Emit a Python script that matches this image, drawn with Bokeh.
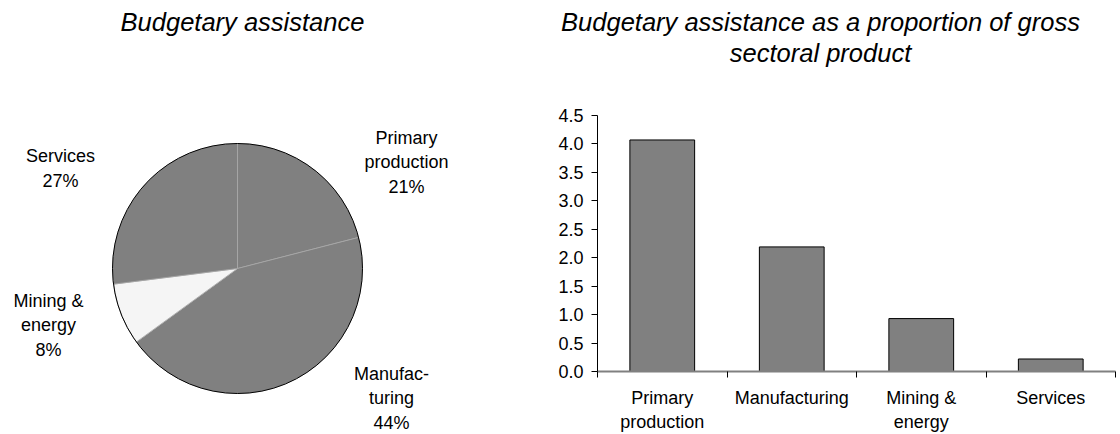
import math
from bokeh.plotting import figure
from bokeh.layouts import row, column
from bokeh.models import Range1d, FixedTicker, NumeralTickFormatter, ColumnDataSource
from bokeh.core.properties import value
from bokeh.embed import file_html
from bokeh.resources import INLINE

# ---------------- data ----------------
pie_sectors = ["Primary production", "Manufacturing", "Mining & energy", "Services"]
pie_shares = [21, 44, 8, 27]
pie_label_names = ["Primary\nproduction", "Manufac-\nturing", "Mining &\nenergy", "Services"]
pie_colors = ["#808080", "#808080", "#f5f5f5", "#808080"]

bar_categories = ["Primary\nproduction", "Manufacturing", "Mining &\nenergy", "Services"]
bar_values = [4.07, 2.19, 0.93, 0.22]
y_ticks = [0.0, 0.5, 1.0, 1.5, 2.0, 2.5, 3.0, 3.5, 4.0, 4.5]

left_title = "Budgetary assistance"
right_title_lines = ["Budgetary assistance as a proportion of gross", "sectoral product"]

# ---------------- styling ----------------
FONT = "Liberation Sans"
H = 434
LABEL_SIZE = "18px"
TITLE_SIZE = "25.5px"

# ---------------- pie ----------------
pie = figure(width=480, height=H, x_range=Range1d(0, 480), y_range=Range1d(0, H),
             output_backend="svg", toolbar_location=None,
             x_axis_type=None, y_axis_type=None, min_border=0,
             outline_line_color=None)
pie.grid.visible = False

cx, cy, R = 237, H - 268, 125
total = float(sum(pie_shares))
starts, ends = [], []
c = 0.0
for s in pie_shares:
    starts.append(math.pi / 2 - 2 * math.pi * c / total)
    c += s
    ends.append(math.pi / 2 - 2 * math.pi * c / total)

wsrc = ColumnDataSource(dict(start=starts, end=ends, color=pie_colors))
pie.wedge(x=cx, y=cy, radius=R, start_angle="start", end_angle="end",
          direction="clock", fill_color="color", line_color="#a8a8a8",
          line_width=0.8, source=wsrc)
pie.circle(x=[cx], y=[cy], radius=R, fill_color=None, line_color="black", line_width=1)

# label placement (page pixels, centre of text block)
label_pos = [(406, 162), (391, 398), (48, 325), (60, 168)]
ltexts = [f"{n}\n{s}%" for n, s in zip(pie_label_names, pie_shares)]
lsrc = ColumnDataSource(dict(x=[p[0] for p in label_pos], y=[H - p[1] for p in label_pos], text=ltexts))
pie.text(x="x", y="y", text="text", source=lsrc, text_font=value(FONT),
         text_font_size=LABEL_SIZE, text_align="center", text_baseline="middle",
         text_line_height=1.22, text_color="black")

pie.text(x=[242], y=[H - 21], text=[left_title], text_font=value(FONT),
         text_font_style="italic", text_font_size=TITLE_SIZE, text_align="center",
         text_baseline="middle", text_color="black")

# ---------------- right title ----------------
TH = 90
tfig = figure(width=640, height=TH, x_range=Range1d(480, 1120), y_range=Range1d(H - TH, H),
              output_backend="svg", toolbar_location=None,
              x_axis_type=None, y_axis_type=None, min_border=0, outline_line_color=None)
tfig.grid.visible = False
tsrc = ColumnDataSource(dict(x=[820, 820], y=[H - 21, H - 52], text=right_title_lines))
tfig.text(x="x", y="y", text="text", source=tsrc, text_font=value(FONT),
          text_font_style="italic", text_font_size=TITLE_SIZE, text_align="center",
          text_baseline="middle", text_color="black")

# ---------------- bar chart ----------------
n = len(bar_categories)
bar = figure(width=640, height=H - TH, x_range=Range1d(0, n), y_range=Range1d(0, 4.5),
             output_backend="svg", toolbar_location=None,
             min_border_left=117, min_border_right=5, min_border_top=25, min_border_bottom=63,
             outline_line_color=None)
bar.grid.visible = False

centers = [i + 0.5 for i in range(n)]
bsrc = ColumnDataSource(dict(x=centers, top=bar_values))
bar.vbar(x="x", top="top", width=0.5, source=bsrc, fill_color="#808080",
         line_color="black", line_width=1)

xa = bar.xaxis[0]
xa.ticker = FixedTicker(ticks=centers, minor_ticks=[float(i) for i in range(n + 1)])
xa.major_label_overrides = {cc: lab for cc, lab in zip(centers, bar_categories)}
xa.major_tick_line_color = None
xa.minor_tick_line_color = "black"
xa.minor_tick_out = 6
xa.minor_tick_in = 0
xa.axis_line_color = "#808080"
xa.axis_line_width = 2
xa.major_label_standoff = 10
xa.major_label_text_font = FONT
xa.major_label_text_font_size = LABEL_SIZE
xa.major_label_text_color = "black"
xa.major_label_text_line_height = 1.22

ya = bar.yaxis[0]
ya.ticker = FixedTicker(ticks=y_ticks, minor_ticks=[])
ya.formatter = NumeralTickFormatter(format="0.0")
ya.minor_tick_line_color = None
ya.major_tick_out = 6
ya.major_tick_in = 0
ya.major_tick_line_color = "black"
ya.axis_line_color = "black"
ya.major_label_standoff = 8
ya.major_label_text_font = FONT
ya.major_label_text_font_size = LABEL_SIZE
ya.major_label_text_color = "black"

# the title figure is wrapped in its own row so its frame is not aligned to the bar frame
layout = row(pie, column(row(tfig), bar))
open("out.html", "w").write(file_html(layout, INLINE))
